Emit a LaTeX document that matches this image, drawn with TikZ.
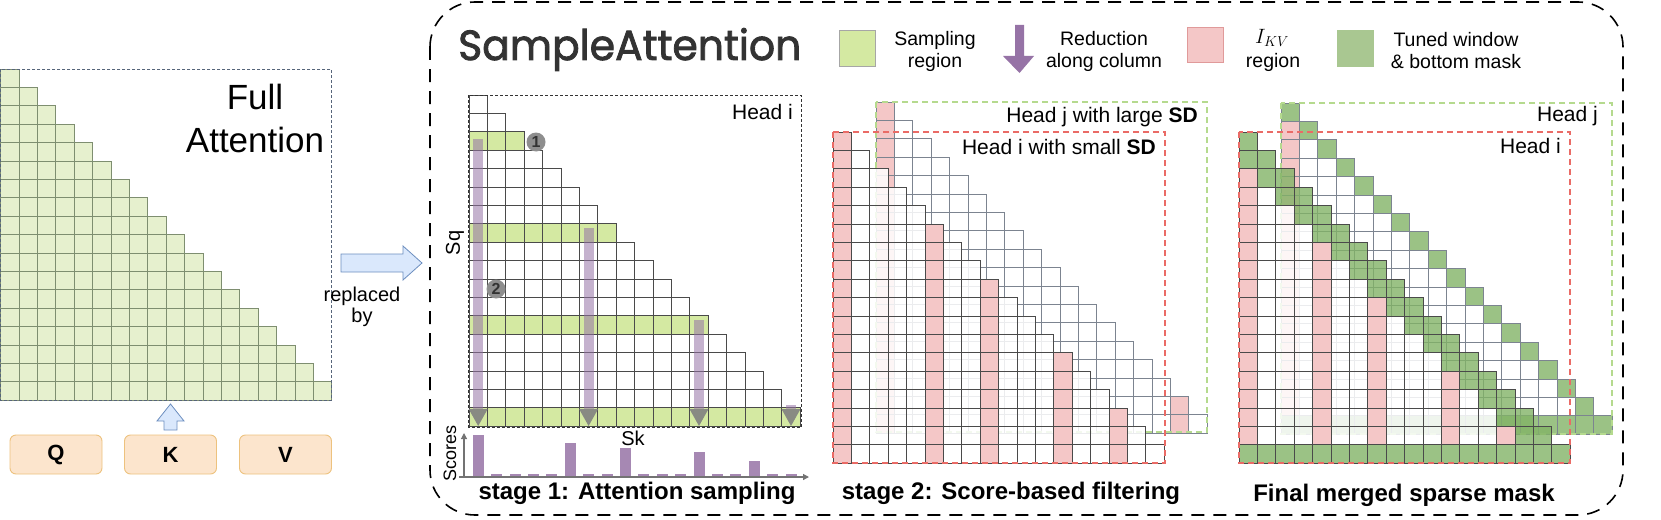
\documentclass[tikz,border=0pt]{standalone}
\usepackage{fontspec}
\usepackage{graphicx}
\setmainfont{Liberation Sans}
\newfontfamily\titlefont[FakeBold=2]{Poppins}
\usetikzlibrary{arrows.meta}
\definecolor{fagreen}{HTML}{E6F0CE}
\definecolor{faline}{HTML}{7E8E70}
\definecolor{fabox}{HTML}{56657A}
\definecolor{sampgreen}{HTML}{D4E9A2}
\definecolor{pinkkv}{HTML}{F4C7C7}
\definecolor{pinkline}{HTML}{E09A9A}
\definecolor{tuned}{HTML}{82B366}
\definecolor{tunedleg}{HTML}{A9C791}
\definecolor{purp}{HTML}{9673A6}
\definecolor{gridi}{HTML}{4A4A4A}
\definecolor{gridj}{HTML}{7C8490}
\definecolor{jboxc}{HTML}{B5DA8E}
\definecolor{iboxc}{HTML}{EA6B66}
\definecolor{bluefill}{HTML}{DAE8FC}
\definecolor{blueline}{HTML}{6C8EBF}
\definecolor{qkvfill}{HTML}{FCE5CD}
\definecolor{qkvline}{HTML}{EDC27E}
\definecolor{numgray}{HTML}{8E8E8E}
\definecolor{titlegray}{HTML}{333333}
\begin{document}
\begin{tikzpicture}[x=1pt,y=-1pt,
  txt/.style={inner sep=0pt, font=\fontsize{21}{24}\selectfont},
  legtxt/.style={inner sep=0pt, align=center, font=\fontsize{19.5}{22}\selectfont},
  stagetxt/.style={inner sep=0pt, font=\bfseries\fontsize{24}{24}\selectfont},
  qkv/.style={draw=qkvline, fill=qkvfill, rounded corners=6pt, minimum width=92pt, minimum height=39pt, line width=0.9pt, font=\bfseries\fontsize{22}{22}\selectfont},
  numc/.style={circle, fill=numgray, inner sep=0pt, minimum size=19pt, font=\bfseries\fontsize{16}{16}\selectfont, text=black!80},
  blockarrow/.style={fill=bluefill, draw=blueline, line width=0.8pt},
  jbox/.style={draw=jboxc, line width=1.6pt, dash pattern=on 6pt off 4pt},
  ibox/.style={draw=iboxc, line width=1.6pt, dash pattern=on 6pt off 4pt},
  legsq/.style={minimum width=36pt, minimum height=35pt, inner sep=0pt, line width=1pt},
]
\useasboundingbox (0,0) rectangle (1661,519);

% ---------------- Full attention ----------------
\foreach \r in {0,...,17}{\foreach \c in {0,...,\r}{
  \draw[fill=fagreen, draw=faline, line width=0.8pt] ({0.5+\c*18.4},{69+\r*18.4}) rectangle ++(18.4,18.4);
}}
\draw[draw=fabox, line width=1pt, dash pattern=on 3pt off 2pt] (0.5,69) rectangle (331.7,400.2);
\node[inner sep=0pt, anchor=base, font=\fontsize{35}{35}\selectfont] (full) at (255,109) {Full};
\node[inner sep=0pt, anchor=base, font=\fontsize{35}{35}\selectfont] (att) at (255,152) {Attention};

\node[qkv] (q) at (56,454.5) {Q};
\node[qkv] (k) at (170.5,454.5) {K};
\node[qkv] (v) at (285.5,454.5) {V};
\draw[blockarrow] (164,430) -- (164,421) -- (157,421) -- (170.5,404) -- (184,421) -- (177,421) -- (177,430) -- cycle;

\draw[blockarrow] (341,254) -- (403,254) -- (403,246) -- (422,263) -- (403,280) -- (403,272) -- (341,272) -- cycle;
\node[legtxt, font=\fontsize{20}{21}\selectfont] (rep) at (362,307) {replaced\\by};

% ---------------- main dashed frame ----------------
\draw[line width=1.6pt, dash pattern=on 13pt off 9pt, rounded corners=45pt] (430,2) rectangle (1623,515);

\node[inner sep=0pt, anchor=base west, text=titlegray] (title) at (458,60) {\resizebox{343pt}{32pt}{\titlefont SampleAttention}};

% ---------------- legend ----------------
\node[legsq, fill=sampgreen, draw=gray!70] (legsamp) at (857,48.5) {};
\node[legtxt] (lsamp) at (935,51) {Sampling\\region};
\fill[purp] (1015,25) -- (1024,25) -- (1024,56) -- (1034,56) -- (1019.5,73) -- (1003,56) -- (1015,56) -- cycle;
\node[legtxt] (lred) at (1104,51) {Reduction\\along column};
\node[legsq, fill=pinkkv, draw=pinkline] (legkv) at (1205,45) {};
\node[inner sep=0pt, font=\fontsize{22}{22}\selectfont] (lkv) at (1272,38) {$I_{KV}$};
\node[legtxt] (lkvr) at (1273,62) {region};
\node[legsq, fill=tunedleg, draw=tunedleg] (legtw) at (1355,48.5) {};
\node[legtxt] (ltw) at (1456,51) {Tuned window\\\& bottom mask};

% ---------------- Stage 1 ----------------
\foreach \r in {0,...,17}{\foreach \c in {0,...,\r}{
  \pgfmathtruncatemacro\isg{(\r==2)||(\r==7)||(\r==12)||(\r==17)}
  \ifnum\isg=1 \fill[sampgreen] ({469+\c*18.4},{95+\r*18.4}) rectangle ++(18.4,18.4);\fi
}}
\foreach \r in {0,...,17}{\foreach \c in {0,...,\r}{
  \draw[gridi, line width=0.7pt] ({469+\c*18.4},{95+\r*18.4}) rectangle ++(18.4,18.4);
}}
\draw[black!80, line width=1pt, dash pattern=on 3pt off 2pt] (468.5,95) rectangle (801,427);
\node[txt, anchor=east] (h1) at (793,112) {Head i};
\foreach \x/\y in {478.2/139, 588.6/228, 699/320, 791/405}{
  \fill[purp, opacity=0.55] ({\x-5},\y) rectangle ({\x+5},409);
}
\foreach \x in {478.2,588.6,699,791}{
  \fill[gray, opacity=0.9] ({\x-9.5},409) -- ({\x+9.5},409) -- (\x,426) -- cycle;
}
\node[numc] (c1) at (536,142) {1};
\node[numc] (c2) at (496,289) {2};
\node[inner sep=0pt, rotate=90, font=\fontsize{20}{20}\selectfont] (sq) at (455,243) {Sq};
\node[inner sep=0pt, font=\fontsize{20}{20}\selectfont] (sk) at (633,438) {Sk};
\node[inner sep=0pt, rotate=90, font=\fontsize{18}{18}\selectfont] (sc) at (450,453) {Scores};
\foreach \k/\h in {0/42,1/3,2/3,3/3,4/3,5/34,6/3,7/3,8/29,9/3,10/3,11/3,12/25,13/3,14/3,15/16,16/3,17/3}{
  \fill[purp, opacity=0.85] ({478.2+\k*18.4-5.5},477) rectangle ++(11,-\h);
}
\draw[black!55, line width=1.2pt, -{Triangle[length=6pt,width=6pt]}] (464,478) -- (464,433);
\draw[black!55, line width=1.2pt, -{Triangle[length=6pt,width=6pt]}] (459,477) -- (809,477);
\node[stagetxt] (st1) at (637,493) {stage 1: Attention sampling};

% ---------------- Stage 2 ----------------
% head j
\foreach \r in {0,...,17}{\foreach \c in {0,...,\r}{
  \pgfmathtruncatemacro\pk{(\c==0)||((\c==16)&&(\r>=16))}
  \ifnum\pk=1 \fill[pinkkv] ({876+\c*18.4},{102+\r*18.4}) rectangle ++(18.4,18.4);\fi
}}
\foreach \r in {0,...,17}{\foreach \c in {0,...,\r}{
  \draw[gridj, line width=0.7pt] ({876+\c*18.4},{102+\r*18.4}) rectangle ++(18.4,18.4);
}}
\draw[jbox] (876,102) rectangle (1207,432);
% head i
\foreach \r in {0,...,17}{\foreach \c in {0,...,\r}{
  \pgfmathtruncatemacro\pk{(\c==0)||(\c==5)||(\c==8)||(\c==12)||(\c==15)}
  \ifnum\pk=1 \fill[pinkkv] ({833+\c*18.4},{132+\r*18.4}) rectangle ++(18.4,18.4);
  \else \fill[white, opacity=0.85] ({833+\c*18.4},{132+\r*18.4}) rectangle ++(18.4,18.4);\fi
}}
\foreach \r in {0,...,17}{\foreach \c in {0,...,\r}{
  \draw[gridi, line width=0.7pt] ({833+\c*18.4},{132+\r*18.4}) rectangle ++(18.4,18.4);
}}
\draw[ibox] (833,132) rectangle (1165,463);
\node[txt, anchor=east] (h2j) at (1198,117) {Head j with large \textbf{SD}};
\node[txt, anchor=east] (h2i) at (1156,147) {Head i with small \textbf{SD}};
\node[stagetxt] (st2) at (1011,493) {stage 2: Score-based filtering};

% ---------------- Stage 3 ----------------
% head j
\foreach \r in {0,...,17}{\foreach \c in {0,...,\r}{
  \pgfmathtruncatemacro\gr{(\c==\r)||(\r==17)}
  \pgfmathtruncatemacro\pk{(\c==0)&&(\r>=1)}
  \ifnum\gr=1 \fill[tuned, opacity=0.8] ({1281+\c*18.4},{103+\r*18.4}) rectangle ++(18.4,18.4);
  \else\ifnum\pk=1 \fill[pinkkv] ({1281+\c*18.4},{103+\r*18.4}) rectangle ++(18.4,18.4);\fi\fi
}}
\foreach \r in {0,...,17}{\foreach \c in {0,...,\r}{
  \draw[gridj, line width=0.7pt] ({1281+\c*18.4},{103+\r*18.4}) rectangle ++(18.4,18.4);
}}
\draw[jbox] (1281,103) rectangle (1612,434);
% head i
\foreach \r in {0,...,17}{\foreach \c in {0,...,\r}{
  \pgfmathtruncatemacro\gr{(\c==\r)||(\c==\r-1)||(\r==17)}
  \pgfmathtruncatemacro\pk{((\c==0)||(\c==4)||(\c==7)||(\c==11)||(\c==14))&&(\r>=\c+2)}
  \ifnum\gr=1 \fill[tuned, opacity=0.8] ({1239+\c*18.4},{132+\r*18.4}) rectangle ++(18.4,18.4);
  \else\ifnum\pk=1 \fill[pinkkv] ({1239+\c*18.4},{132+\r*18.4}) rectangle ++(18.4,18.4);
  \else \fill[white, opacity=0.85] ({1239+\c*18.4},{132+\r*18.4}) rectangle ++(18.4,18.4);\fi\fi
}}
\foreach \r in {0,...,17}{\foreach \c in {0,...,\r}{
  \draw[gridi, line width=0.7pt] ({1239+\c*18.4},{132+\r*18.4}) rectangle ++(18.4,18.4);
}}
\draw[ibox] (1239,132) rectangle (1570,463);
\node[txt, anchor=east] (h3j) at (1598,116) {Head j};
\node[txt, anchor=east] (h3i) at (1561,146) {Head i};
\node[stagetxt] (st3) at (1404,495) {Final merged sparse mask};
\end{tikzpicture}
\end{document}
